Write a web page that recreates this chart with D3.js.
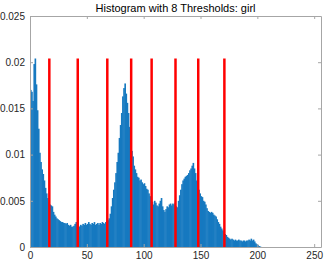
<!DOCTYPE html>
<html>
<head>
<meta charset="utf-8">
<script src="https://cdn.jsdelivr.net/npm/d3@7"></script>
<style>
  body { margin: 0; background: #fff; }
  text { font-family: "Liberation Sans", Arial, sans-serif; }
</style>
</head>
<body>
<svg id="chart" width="326" height="263"></svg>
<script>
// histogram counts (normalized), bins 0..255
var counts = [
  0.0170, 0.0168, 0.0158, 0.0198, 0.0204, 0.0176, 0.0148, 0.0128, 0.0102, 0.0092,
  0.0084, 0.0079, 0.0072, 0.0064, 0.0058, 0.0053, 0.0049, 0.0046, 0.0045, 0.0044,
  0.0038, 0.0035, 0.0033, 0.0031, 0.0030, 0.0029, 0.0028, 0.0027, 0.0027, 0.0026,
  0.0026, 0.0025, 0.0026, 0.0024, 0.0023, 0.0024, 0.0022, 0.0022, 0.0023, 0.0025,
  0.0027, 0.0025, 0.0023, 0.0022, 0.0024, 0.0023, 0.0025, 0.0024, 0.0026, 0.0024,
  0.0025, 0.0027, 0.0025, 0.0024, 0.0026, 0.0025, 0.0027, 0.0024, 0.0025, 0.0026,
  0.0024, 0.0026, 0.0025, 0.0027, 0.0026, 0.0025, 0.0027, 0.0028, 0.0029, 0.0031,
  0.0036, 0.0044, 0.0053, 0.0062, 0.0070, 0.0080, 0.0092, 0.0102, 0.0118, 0.0132,
  0.0145, 0.0163, 0.0172, 0.0177, 0.0166, 0.0156, 0.0145, 0.0130, 0.0112, 0.0104,
  0.0098, 0.0088, 0.0084, 0.0080, 0.0076, 0.0075, 0.0072, 0.0073, 0.0070, 0.0068,
  0.0069, 0.0066, 0.0063, 0.0062, 0.0058, 0.0055, 0.0054, 0.0049, 0.0046, 0.0050,
  0.0048, 0.0045, 0.0044, 0.0047, 0.0050, 0.0053, 0.0044, 0.0040, 0.0038, 0.0041,
  0.0044, 0.0043, 0.0046, 0.0047, 0.0045, 0.0047, 0.0046, 0.0048, 0.0044, 0.0043,
  0.0050, 0.0056, 0.0062, 0.0068, 0.0072, 0.0074, 0.0076, 0.0077, 0.0078, 0.0080,
  0.0083, 0.0085, 0.0088, 0.0091, 0.0085, 0.0080, 0.0072, 0.0068, 0.0062, 0.0058,
  0.0055, 0.0054, 0.0050, 0.0049, 0.0046, 0.0042, 0.0039, 0.0038, 0.0037, 0.0038,
  0.0037, 0.0035, 0.0034, 0.0033, 0.0030, 0.0027, 0.0025, 0.0022, 0.0020, 0.0018,
  0.0016, 0.0014, 0.0013, 0.0011, 0.0010, 0.0009, 0.0008, 0.0009, 0.0008, 0.0007,
  0.0008, 0.0007, 0.0007, 0.0008, 0.0007, 0.0007, 0.0006, 0.0007, 0.0007, 0.0006,
  0.0007, 0.0007, 0.0008, 0.0007, 0.0009, 0.0007, 0.0008, 0.0006, 0.0004, 0.0003,
  0.0002, 0.0001, 0.00005
];
while (counts.length < 256) counts.push(0);

var thresholds = [17, 42, 68, 89, 107, 128, 148, 171];
var xTicks = [0, 50, 100, 150, 200, 250];
var yTicks = [0, 0.005, 0.01, 0.015, 0.02, 0.025];
var title = "Histogram with 8 Thresholds: girl";

var svg = d3.select("#chart");
var margin = { top: 16, right: 5, bottom: 16, left: 30 },
    width = 326 - margin.left - margin.right,
    height = 263 - margin.top - margin.bottom;

var g = svg.append("g").attr("transform", "translate(" + margin.left + "," + margin.top + ")");

var x = d3.scaleLinear().domain([0, 256]).range([0, width]);
var y = d3.scaleLinear().domain([0, 0.025]).range([height, 0]);

// bars (slightly overlapped so no seams show between them)
g.selectAll("rect.bar")
    .data(counts)
    .enter()
    .append("rect")
        .attr("class", "bar")
        .attr("x", function(d, i) { return x(i); })
        .attr("width", function(d, i) { return x(i + 1) - x(i) + 0.5; })
        .attr("y", function(d) { return y(d); })
        .attr("height", function(d) { return y(0) - y(d); })
        .attr("fill", "#1679c0");

// threshold lines up to the peak
var peak = d3.max(counts);
g.selectAll("line.thr")
    .data(thresholds)
    .enter()
    .append("line")
        .attr("class", "thr")
        .attr("x1", function(d) { return x(d); })
        .attr("x2", function(d) { return x(d); })
        .attr("y1", y(0))
        .attr("y2", y(peak))
        .attr("stroke", "#ff0000")
        .attr("stroke-width", 2.5);

// axes, matlab style box with inward ticks
var axisColor = "#a6a6a6";
function styleAxis(sel) {
    sel.select(".domain").attr("stroke", axisColor);
    sel.selectAll(".tick line").attr("stroke", axisColor);
    sel.selectAll(".tick text").attr("fill", "#262626").style("font-size", "10px")
        .style("font-family", "'Liberation Sans', Arial, sans-serif");
}

g.append("g")
    .attr("transform", "translate(0," + height + ")")
    .call(d3.axisBottom(x).tickValues(xTicks).tickSize(-3).tickSizeOuter(0).tickPadding(5))
    .call(styleAxis);
g.append("g")
    .call(d3.axisTop(x).tickValues(xTicks).tickSize(-3).tickSizeOuter(0).tickFormat(""))
    .call(styleAxis);
g.append("g")
    .call(d3.axisLeft(y).tickValues(yTicks).tickSize(-3).tickSizeOuter(0).tickPadding(5)
        .tickFormat(function(d) { return d3.format("")(+d.toFixed(3)); }))
    .call(styleAxis);
g.append("g")
    .attr("transform", "translate(" + width + ",0)")
    .call(d3.axisRight(y).tickValues(yTicks).tickSize(-3).tickSizeOuter(0).tickFormat(""))
    .call(styleAxis);

// title
g.append("text")
    .attr("x", width / 2)
    .attr("y", -4)
    .style("text-anchor", "middle")
    .style("font-size", "11px")
    .attr("fill", "#000")
    .text(title);
</script>
</body>
</html>
